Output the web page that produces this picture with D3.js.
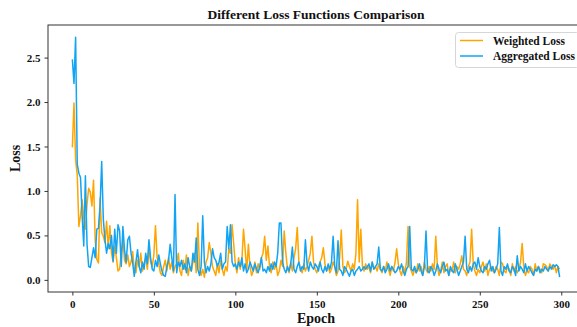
<!DOCTYPE html>
<html>
<head>
<meta charset="utf-8">
<script src="https://cdn.jsdelivr.net/npm/d3@7"></script>
<style>
  body { margin: 0; background: #fff; }
  text { font-family: "Liberation Serif", "Times New Roman", serif; font-weight: bold; }
</style>
</head>
<body>
<svg id="chart" width="577" height="327"></svg>
<script>
const title = 'Different Loss Functions Comparison';
const seriesNames = ['Weighted Loss', 'Aggregated Loss'];
const xTicks = [0, 50, 100, 150, 200, 250, 300];
const yTicks = [0.0, 0.5, 1.0, 1.5, 2.0, 2.5];

// values, epoch 0..299
const weightedLoss = [
  1.49, 1.99, 1.35, 1.18, 0.60, 0.72, 0.90, 0.70, 0.57, 0.85, 1.03, 0.99, 0.83, 1.12, 0.45, 0.23, 0.19, 0.92, 0.53, 0.49,
  0.42, 0.66, 0.35, 0.61, 0.30, 0.20, 0.38, 0.25, 0.10, 0.12, 0.30, 0.45, 0.22, 0.18, 0.28, 0.15, 0.20, 0.32, 0.12, 0.08,
  0.22, 0.15, 0.30, 0.10, 0.18, 0.25, 0.12, 0.35, 0.20, 0.15, 0.28, 0.61, 0.25, 0.18, 0.08, 0.05, 0.15, 0.22, 0.10, 0.25,
  0.12, 0.20, 0.08, 0.15, 0.18, 0.30, 0.10, 0.05, 0.22, 0.12, 0.28, 0.05, 0.15, 0.10, 0.20, 0.30, 0.08, 0.64, 0.15, 0.05,
  0.12, 0.03, 0.20, 0.25, 0.42, 0.30, 0.15, 0.10, 0.05, 0.18, 0.08, 0.22, 0.12, 0.05, 0.15, 0.10, 0.35, 0.30, 0.62, 0.40,
  0.18, 0.08, 0.25, 0.12, 0.20, 0.57, 0.35, 0.10, 0.40, 0.15, 0.05, 0.10, 0.20, 0.08, 0.18, 0.12, 0.25, 0.30, 0.49, 0.22,
  0.38, 0.15, 0.08, 0.20, 0.12, 0.18, 0.05, 0.10, 0.22, 0.15, 0.55, 0.30, 0.12, 0.08, 0.20, 0.10, 0.25, 0.35, 0.59, 0.20,
  0.12, 0.08, 0.18, 0.10, 0.15, 0.22, 0.30, 0.49, 0.20, 0.12, 0.08, 0.15, 0.20, 0.25, 0.36, 0.18, 0.10, 0.15, 0.08, 0.12,
  0.20, 0.15, 0.05, 0.10, 0.25, 0.56, 0.15, 0.08, 0.12, 0.21, 0.15, 0.10, 0.18, 0.12, 0.30, 0.90, 0.20, 0.57, 0.15, 0.10,
  0.18, 0.12, 0.15, 0.08, 0.20, 0.12, 0.15, 0.10, 0.18, 0.12, 0.08, 0.15, 0.10, 0.20, 0.12, 0.05, 0.15, 0.10, 0.20, 0.35,
  0.18, 0.10, 0.05, 0.15, 0.08, 0.20, 0.60, 0.15, 0.10, 0.05, 0.12, 0.08, 0.18, 0.10, 0.15, 0.05, 0.20, 0.12, 0.08, 0.15,
  0.10, 0.18, 0.12, 0.49, 0.15, 0.05, 0.10, 0.20, 0.08, 0.15, 0.18, 0.05, 0.12, 0.10, 0.20, 0.08, 0.15, 0.12, 0.18, 0.27,
  0.12, 0.10, 0.05, 0.15, 0.20, 0.57, 0.18, 0.10, 0.05, 0.12, 0.08, 0.15, 0.20, 0.10, 0.18, 0.05, 0.12, 0.15, 0.10, 0.08,
  0.15, 0.12, 0.05, 0.20, 0.18, 0.10, 0.08, 0.15, 0.12, 0.05, 0.18, 0.10, 0.15, 0.08, 0.12, 0.20, 0.41, 0.15, 0.05, 0.10,
  0.08, 0.15, 0.12, 0.05, 0.18, 0.10, 0.15, 0.12, 0.08, 0.18, 0.17, 0.15, 0.10, 0.18, 0.15, 0.12, 0.16, 0.08, 0.15, 0.12
];
const aggregatedLoss = [
  2.48, 2.21, 2.73, 1.30, 1.20, 1.15, 0.72, 0.38, 1.17, 0.40, 0.15, 0.14, 0.25, 0.36, 0.25, 0.57, 0.58, 0.83, 1.33, 0.68,
  0.45, 0.30, 0.41, 0.35, 0.50, 0.21, 0.57, 0.30, 0.62, 0.55, 0.15, 0.60, 0.34, 0.20, 0.45, 0.49, 0.30, 0.19, 0.04, 0.20,
  0.34, 0.15, 0.08, 0.20, 0.12, 0.30, 0.18, 0.45, 0.25, 0.12, 0.10, 0.22, 0.15, 0.28, 0.18, 0.10, 0.05, 0.04, 0.15, 0.22,
  0.40, 0.25, 0.10, 0.96, 0.08, 0.20, 0.15, 0.22, 0.12, 0.18, 0.08, 0.25, 0.15, 0.10, 0.30, 0.20, 0.47, 0.12, 0.05, 0.15,
  0.72, 0.20, 0.08, 0.15, 0.10, 0.18, 0.35, 0.25, 0.22, 0.15, 0.20, 0.30, 0.12, 0.18, 0.20, 0.60, 0.35, 0.62, 0.20, 0.15,
  0.18, 0.12, 0.20, 0.15, 0.25, 0.10, 0.18, 0.08, 0.12, 0.20, 0.15, 0.10, 0.18, 0.12, 0.08, 0.15, 0.25, 0.10, 0.12, 0.08,
  0.15, 0.10, 0.18, 0.12, 0.20, 0.15, 0.30, 0.64, 0.64, 0.20, 0.12, 0.08, 0.15, 0.10, 0.18, 0.37, 0.12, 0.08, 0.15, 0.20,
  0.10, 0.15, 0.12, 0.45, 0.18, 0.10, 0.20, 0.15, 0.12, 0.18, 0.15, 0.10, 0.20, 0.12, 0.08, 0.15, 0.10, 0.18, 0.12, 0.20,
  0.49, 0.15, 0.08, 0.44, 0.12, 0.10, 0.05, 0.15, 0.12, 0.08, 0.04, 0.10, 0.12, 0.05, 0.10, 0.12, 0.15, 0.10, 0.12, 0.15,
  0.12, 0.15, 0.18, 0.10, 0.20, 0.12, 0.15, 0.18, 0.37, 0.12, 0.10, 0.15, 0.08, 0.12, 0.18, 0.10, 0.15, 0.12, 0.08, 0.10,
  0.15, 0.12, 0.18, 0.10, 0.05, 0.12, 0.15, 0.60, 0.12, 0.10, 0.15, 0.08, 0.12, 0.18, 0.10, 0.05, 0.15, 0.55, 0.10, 0.08,
  0.15, 0.12, 0.05, 0.10, 0.18, 0.12, 0.08, 0.15, 0.20, 0.10, 0.12, 0.05, 0.15, 0.10, 0.08, 0.18, 0.12, 0.05, 0.10, 0.15,
  0.20, 0.49, 0.12, 0.08, 0.15, 0.10, 0.18, 0.20, 0.12, 0.25, 0.15, 0.10, 0.08, 0.15, 0.12, 0.18, 0.22, 0.10, 0.15, 0.08,
  0.12, 0.18, 0.59, 0.10, 0.05, 0.15, 0.12, 0.18, 0.10, 0.08, 0.15, 0.12, 0.05, 0.27, 0.10, 0.15, 0.12, 0.08, 0.18, 0.10,
  0.15, 0.12, 0.08, 0.05, 0.12, 0.10, 0.15, 0.08, 0.12, 0.10, 0.15, 0.12, 0.10, 0.15, 0.12, 0.17, 0.15, 0.17, 0.15, 0.03
];
const colors = ['#ffa500', '#12a4f4'];

const svg = d3.select('#chart');
const box = { left: 48, right: 584, top: 25, bottom: 292 };

const x = d3.scaleLinear().domain([-14.95, 313.95]).range([box.left, box.right]);
const y = d3.scaleLinear().domain([-0.1365, 2.8665]).range([box.bottom, box.top]);

// lines
const line = d3.line()
  .x((d, i) => x(i))
  .y(d => y(d));

[weightedLoss, aggregatedLoss].forEach((s, k) => {
  svg.append('path')
    .datum(s)
    .attr('fill', 'none')
    .attr('stroke', colors[k])
    .attr('stroke-width', 1.5)
    .attr('stroke-linejoin', 'round')
    .attr('d', line);
});

// frame
svg.append('rect')
  .attr('x', box.left).attr('y', box.top)
  .attr('width', box.right - box.left).attr('height', box.bottom - box.top)
  .attr('fill', 'none').attr('stroke', '#333').attr('stroke-width', 1);

// axes
const xAxis = svg.append('g')
  .attr('transform', `translate(0,${box.bottom})`)
  .call(d3.axisBottom(x).tickValues(xTicks).tickSize(3.5).tickPadding(4.5));
const yAxis = svg.append('g')
  .attr('transform', `translate(${box.left},0)`)
  .call(d3.axisLeft(y).tickValues(yTicks).tickFormat(d3.format('.1f')).tickSize(3.5).tickPadding(4));
[xAxis, yAxis].forEach(g => {
  g.select('.domain').remove();
  g.selectAll('line').attr('stroke', '#333');
  g.selectAll('text').attr('font-size', 11).attr('fill', '#111')
    .style('font-family', '"Liberation Serif", serif').style('font-weight', 'bold');
});

// title and labels
svg.append('text')
  .attr('x', (box.left + box.right) / 2).attr('y', 19)
  .attr('text-anchor', 'middle').attr('font-size', 13.5).attr('fill', '#111')
  .text(title);
svg.append('text')
  .attr('x', (box.left + box.right) / 2).attr('y', 323)
  .attr('text-anchor', 'middle').attr('font-size', 14).attr('fill', '#111')
  .text('Epoch');
svg.append('text')
  .attr('transform', `translate(20,${(box.top + box.bottom) / 2}) rotate(-90)`)
  .attr('text-anchor', 'middle').attr('font-size', 14).attr('fill', '#111')
  .text('Loss');

// legend
const legend = svg.append('g');
legend.append('rect')
  .attr('x', 455.5).attr('y', 32.5).attr('width', 124).attr('height', 35).attr('rx', 3)
  .attr('fill', '#fff').attr('fill-opacity', 0.8).attr('stroke', '#d6d6d6').attr('stroke-width', 1);
seriesNames.forEach((name, k) => {
  const ly = 40.5 + k * 15.5;
  legend.append('line')
    .attr('x1', 460).attr('x2', 483).attr('y1', ly).attr('y2', ly)
    .attr('stroke', colors[k]).attr('stroke-width', 1.5);
  legend.append('text')
    .attr('x', 493).attr('y', ly + 4).attr('font-size', 11.5).attr('fill', '#111')
    .text(name);
});
</script>
</body>
</html>
